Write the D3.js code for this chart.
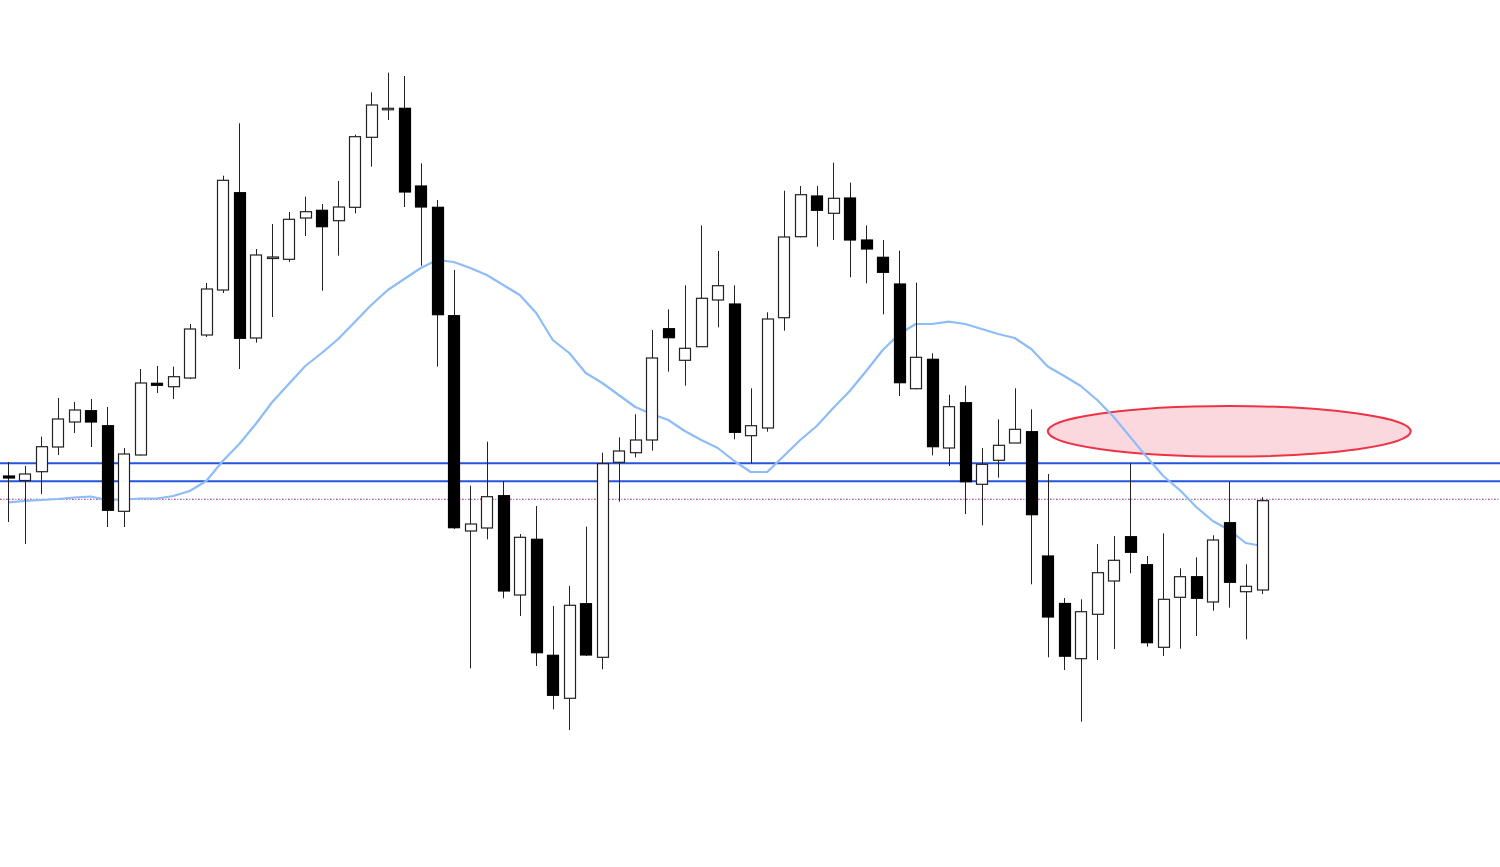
<!DOCTYPE html>
<html>
<head>
<meta charset="utf-8">
<script src="https://cdn.jsdelivr.net/npm/d3@7"></script>
<style>
  html, body { margin: 0; padding: 0; background: #ffffff; }
  svg { display: block; }
</style>
</head>
<body>
<div id="chart"></div>
<script>
// ---- Data (price units) ----
const bars = d3.range(77);
const open = [391,386.5,395.3,420,445,456.3,441.3,355.7,412,483.7,480.3,489,532,577,674.3,529,609.5,607.7,649,656.7,
  646.3,659.7,729.7,758.7,758.7,681,659.7,551.3,336,339,371.3,272,327.7,211.7,168.7,263.3,209.7,404.7,414.3,427,
  538.3,506.7,520.3,567,563,431.3,439,549.3,630.3,671,653.7,669,627,609.7,583,478.3,507.7,419,464.3,382.7,
  406.7,424,435.3,311,263.5,208.3,252.7,286,330.3,302.3,219.7,269.7,290.3,265,344.3,275.3,277];
const close = [389,393,420.3,448,457,445,356.7,413,484,481.7,490.3,538,578,686.7,528.7,612,610,647.7,655.3,640.3,
  660,730.3,762,758.7,675,660,552.3,339.3,343,370.3,276,329.7,214.3,171.7,261.7,212,403.3,416,427,509,
  529.3,518.7,568.7,581.3,434.7,441.3,548,630,672.3,656.7,668.7,627,618,594.7,484.3,509.7,420.3,460.3,385.3,402.7,
  421.7,437.7,352.3,250,210.8,255.3,294.3,306.7,314.7,224.3,267.7,290.3,268.7,327,284.7,280.7,366.3];
const high = [405,401,430.3,469,465,468,460,419,498,501,500.3,543,584,691.3,743.7,618,643,655,670.3,663,
  686,732.3,774.7,794.3,791,703.7,667,597,381.3,425.3,386,333,361,261,281,340.3,414.3,429.7,452.7,537,
  557.7,581.7,641.7,616,581.7,478.7,554.7,676.3,681,681,704.3,684.3,641.7,627,616.3,584.3,513.7,472.3,481.3,419,
  447.7,478.7,457.7,393,269,267.7,323,331,403.7,311,333.7,298.7,309.7,331.7,385,302.7,369.7];
const low = [345,323,373,412,434,420,340,340,411.5,474,468,488,530,574,498,524.3,550,605,631,576.3,
  611.3,653.7,700.3,747,660,601.3,500.3,338,198.7,327.7,268.7,251,201,157.7,137,211,197.7,365.3,409.7,416.3,
  495.3,481.3,520,539.7,427.7,403.7,435.3,536.3,629.7,620.3,627,589.7,583.7,552.7,471,477.7,411.7,401,353,341.7,
  389.3,424,282.7,209.7,197,145.3,207,218,293.7,220.3,211,218.3,231,256.3,259.3,227.7,273];
const movingAverage = [364.7,366,367,368,369.5,370.5,367,367.5,368.5,368.5,371,376,386,406,423,443,465,483,501,514,
  528,545,562,577,588,599,607,605,599,592,582,572,554,527,514,494,484,472,460,453,
  447,436,427,419,406,395,395,411,427,441,459,476,496,517,533,543,543,545.3,543,538,
  533,529,518,500.5,491,481,467,450,430,410,391,377,360,346,337,324,321];
const levelLines = [403.7, 385.7];   // solid blue horizontal levels
const dottedLevel = 367.7;           // dotted level
const zoneCenterBar = 74, zoneHalfBars = 11, zoneCenterPrice = 435.7, zoneHalfPrice = 25.3;

// ---- Layout ----
const W = 1500, H = 867;
const svg = d3.select('#chart').append('svg').attr('width', W).attr('height', H);

const x = d3.scaleBand().domain(bars).range([0, 1270.5]).paddingInner(0.333).paddingOuter(0.1665);
const y = d3.scaleLinear().domain([0, 867]).range([867, 0]);
const cx = i => x(i) + x.bandwidth() / 2;

// Horizontal levels
svg.append('g').selectAll('line').data(levelLines).join('line')
  .attr('x1', 0).attr('x2', W)
  .attr('y1', d => y(d)).attr('y2', d => y(d))
  .attr('stroke', '#2455e0').attr('stroke-width', 2);

svg.append('line')
  .attr('x1', 0).attr('x2', W).attr('y1', y(dottedLevel)).attr('y2', y(dottedLevel))
  .attr('stroke', '#8f9fe6').attr('stroke-width', 1.2).attr('stroke-dasharray', '1.5,1.5');
svg.append('line')
  .attr('x1', 0).attr('x2', W).attr('y1', y(dottedLevel)).attr('y2', y(dottedLevel))
  .attr('stroke', '#c8508a').attr('stroke-width', 1.2).attr('stroke-dasharray', '1.5,4.5');

// Highlight zone ellipse
const step = x.step();
svg.append('ellipse')
  .attr('cx', cx(zoneCenterBar))
  .attr('cy', y(zoneCenterPrice))
  .attr('rx', zoneHalfBars * step)
  .attr('ry', y(zoneCenterPrice - zoneHalfPrice) - y(zoneCenterPrice))
  .attr('fill', '#fbd6dc').attr('fill-opacity', 0.95)
  .attr('stroke', '#ee3345').attr('stroke-width', 2);

// Moving average
const line = d3.line().x((d, i) => cx(i)).y(d => y(d));
svg.append('path').datum(movingAverage)
  .attr('d', line).attr('fill', 'none')
  .attr('stroke', '#8dbcf7').attr('stroke-width', 2.2).attr('stroke-linejoin', 'round');

// Candles
const g = svg.append('g');
const candles = g.selectAll('g.c').data(bars).join('g').attr('class', 'c');
candles.append('line')
  .attr('x1', i => Math.round(cx(i)) + 0.5).attr('x2', i => Math.round(cx(i)) + 0.5)
  .attr('y1', i => y(high[i])).attr('y2', i => y(low[i]))
  .attr('stroke', '#222').attr('stroke-width', 1);
candles.append('rect')
  .attr('x', i => Math.round(x(i)) + 0.5)
  .attr('width', Math.round(x.bandwidth()))
  .attr('y', i => y(Math.max(open[i], close[i])))
  .attr('height', i => Math.max(1.5, Math.abs(y(open[i]) - y(close[i]))))
  .attr('fill', i => close[i] >= open[i] ? '#ffffff' : '#000000')
  .attr('stroke', i => close[i] >= open[i] ? '#222' : '#000')
  .attr('stroke-width', 1.2);
</script>
</body>
</html>
